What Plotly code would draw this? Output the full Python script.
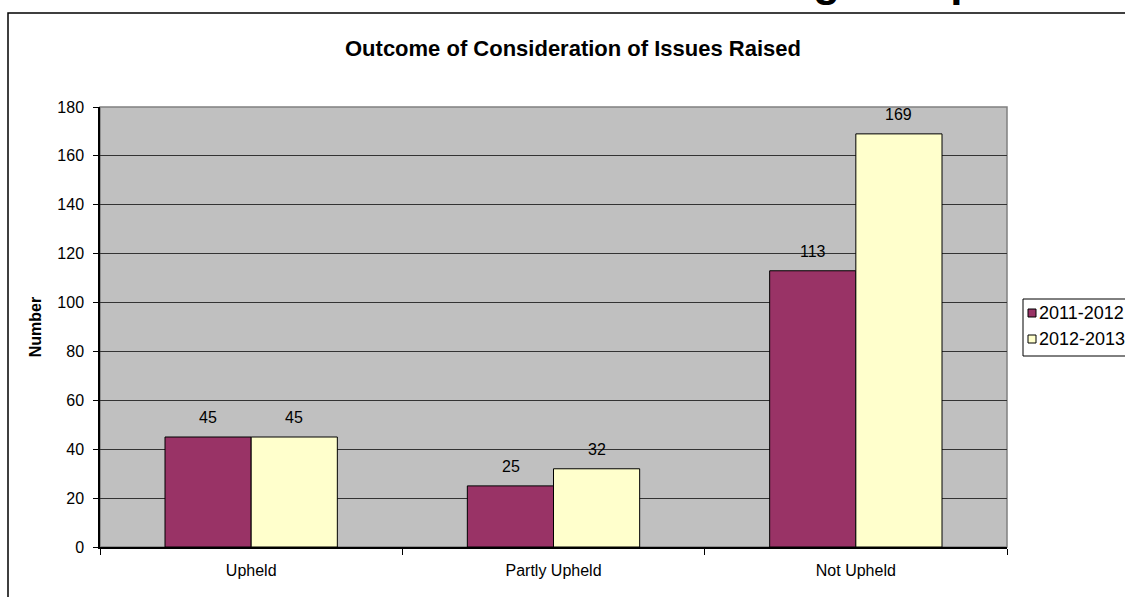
import plotly.graph_objects as go

# Data
categories = ["Upheld", "Partly Upheld", "Not Upheld"]
series_names = ["2011-2012", "2012-2013"]
values_2011_2012 = [45, 25, 113]
values_2012_2013 = [45, 32, 169]
series_colors = ["#993366", "#FFFFCC"]

W, H = 1125, 597
L, R, T, B = 100, 1007, 107, 547   # plot area in pixels

def px_x(p):
    return (p - L) / (R - L)

def px_y(p):
    return (B - p) / (B - T)

FONT = "Liberation Sans, Arial, sans-serif"

fig = go.Figure()
series_values = [values_2011_2012, values_2012_2013]
for name, vals, col in zip(series_names, series_values, series_colors):
    fig.add_trace(go.Bar(
        x=categories, y=vals, name=name,
        marker=dict(color=col, line=dict(color="#000000", width=1)),
        showlegend=False,
    ))

# value labels above each bar
offsets = [-43, 43]
for vals, dx in zip(series_values, offsets):
    for c, v in zip(categories, vals):
        fig.add_annotation(x=c, y=v, text=str(v), showarrow=False,
                           xshift=dx, yshift=9, yanchor="bottom",
                           font=dict(family=FONT, size=16, color="#000000"))

shapes = []
# outer chart frame
shapes.append(dict(type="rect", xref="paper", yref="paper",
                   x0=px_x(8), x1=px_x(1300), y0=px_y(700), y1=px_y(13),
                   line=dict(color="#000000", width=1.5), fillcolor="rgba(0,0,0,0)",
                   layer="below"))
# plot area border
shapes.append(dict(type="rect", xref="paper", yref="paper", x0=0, x1=1, y0=0, y1=1,
                   line=dict(color="#808080", width=1.5), fillcolor="rgba(0,0,0,0)",
                   layer="below"))
# legend box
shapes.append(dict(type="rect", xref="paper", yref="paper",
                   x0=px_x(1023), x1=px_x(1300), y0=px_y(356), y1=px_y(299),
                   line=dict(color="#000000", width=1), fillcolor="#FFFFFF"))

legend_rows = [313, 339]
for name, col, yc in zip(series_names, series_colors, legend_rows):
    shapes.append(dict(type="rect", xref="paper", yref="paper",
                       x0=px_x(1028), x1=px_x(1036), y0=px_y(yc + 4), y1=px_y(yc - 4),
                       line=dict(color="#000000", width=1), fillcolor=col))
    fig.add_annotation(xref="paper", yref="paper", x=px_x(1037), y=px_y(yc),
                       xanchor="left", yanchor="middle", text=name, showarrow=False,
                       font=dict(family=FONT, size=18, color="#000000"))

# chart title
fig.add_annotation(xref="paper", yref="paper", x=px_x(573), y=px_y(48),
                   xanchor="center", yanchor="middle", showarrow=False,
                   text="<b>Outcome of Consideration of Issues Raised</b>",
                   font=dict(family=FONT, size=22, color="#000000"))

# page heading above the chart frame
fig.add_annotation(xref="paper", yref="paper", x=px_x(650), y=px_y(-20),
                   xanchor="left", yanchor="middle", showarrow=False,
                   text="<b>Handling Complaints</b>",
                   font=dict(family=FONT, size=44, color="#000000"))

fig.update_layout(
    width=W, height=H,
    margin=dict(l=L, r=W - R, t=T, b=H - B, pad=0),
    paper_bgcolor="#FFFFFF",
    plot_bgcolor="#C0C0C0",
    barmode="group",
    bargap=0.43,
    bargroupgap=0,
    shapes=shapes,
    font=dict(family=FONT, size=16, color="#000000"),
)

fig.update_xaxes(
    type="category", tickson="boundaries", ticks="outside", ticklen=6,
    tickcolor="#000000", showline=True, linecolor="#000000", linewidth=1.5,
    showgrid=False, ticklabelstandoff=8,
    tickfont=dict(family=FONT, size=16, color="#000000"),
)
fig.update_yaxes(
    range=[0, 180], dtick=20, ticks="outside", ticklen=5, tickcolor="#000000",
    showline=True, linecolor="#000000", linewidth=1.5,
    showgrid=True, gridcolor="#333333", gridwidth=1, zeroline=False,
    ticklabelstandoff=6,
    tickfont=dict(family=FONT, size=16, color="#000000"),
    title=dict(text="<b>Number</b>", standoff=12,
               font=dict(family=FONT, size=16, color="#000000")),
)

fig.write_html("out.html")
